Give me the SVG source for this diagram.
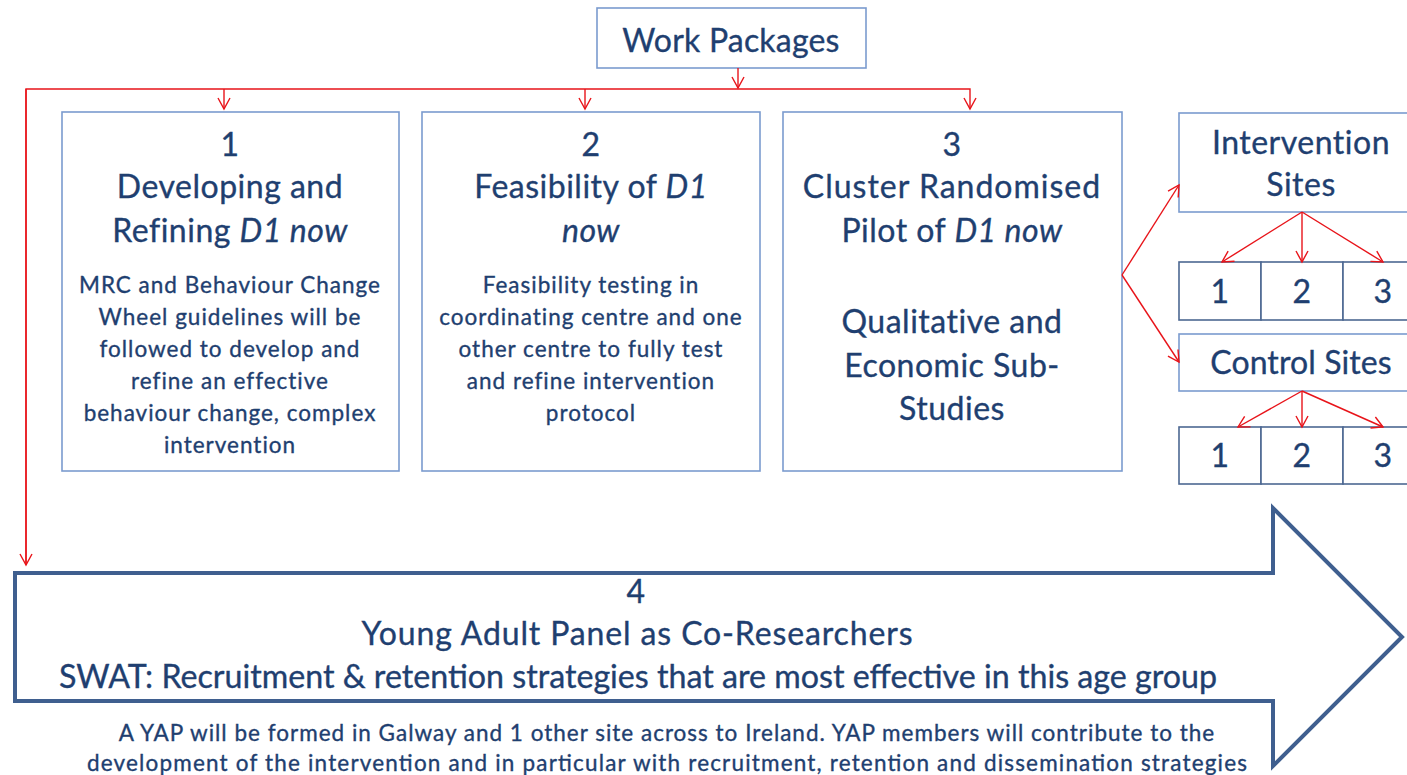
<svg xmlns="http://www.w3.org/2000/svg" width="1407" height="775" viewBox="0 0 1407 775">
<defs>
<style>
text{font-family:Lato,"Open Sans","Liberation Sans",sans-serif;fill:#1f3f70;stroke:#1f3f70;stroke-width:0.35;text-anchor:middle}
.big{font-size:32px;letter-spacing:0.5px}
.sm{font-size:22.5px;letter-spacing:1px}
.box{fill:#fff;stroke:#7b9bcf;stroke-width:1.6}
.cell{fill:#fff;stroke:#4d6892;stroke-width:1.6}
.red{fill:none;stroke:#e8141a;stroke-width:1.4}
</style>
<marker id="ah" viewBox="0 0 14 14" refX="12" refY="7" markerWidth="14" markerHeight="14" markerUnits="userSpaceOnUse" orient="auto">
<path d="M1,1 L12,7 L1,13" fill="none" stroke="#e8141a" stroke-width="1.4"/>
</marker>
</defs>
<rect width="1407" height="775" fill="#fff"/>

<g id="work-packages">
<rect class="box" x="597" y="8" width="269" height="60"/>
<text class="big" x="731" y="52" style="letter-spacing:0.2px">Work Packages</text>
</g>

<g id="wp1">
<rect class="box" x="62" y="112" width="337" height="359"/>
<text class="big" x="230" y="156">1</text>
<text class="big" x="230" y="198">Developing and</text>
<text class="big" x="230" y="242">Refining <tspan font-style="italic">D1 now</tspan></text>
<text class="sm" x="230" y="293">MRC and Behaviour Change</text>
<text class="sm" x="230" y="325">Wheel guidelines will be</text>
<text class="sm" x="230" y="357">followed to develop and</text>
<text class="sm" x="230" y="389">refine an effective</text>
<text class="sm" x="230" y="421">behaviour change, complex</text>
<text class="sm" x="230" y="453">intervention</text>
</g>

<g id="wp2">
<rect class="box" x="422" y="112" width="338" height="359"/>
<text class="big" x="591" y="156">2</text>
<text class="big" x="591" y="198">Feasibility of <tspan font-style="italic">D1</tspan></text>
<text class="big" x="591" y="242" font-style="italic">now</text>
<text class="sm" x="591" y="293">Feasibility testing in</text>
<text class="sm" x="591" y="325">coordinating centre and one</text>
<text class="sm" x="591" y="357">other centre to fully test</text>
<text class="sm" x="591" y="389">and refine intervention</text>
<text class="sm" x="591" y="421">protocol</text>
</g>

<g id="wp3">
<rect class="box" x="783" y="112" width="339" height="359"/>
<text class="big" x="952" y="156">3</text>
<text class="big" x="952" y="198" style="letter-spacing:1px">Cluster Randomised</text>
<text class="big" x="952" y="242">Pilot of <tspan font-style="italic">D1 now</tspan></text>
<text class="big" x="952" y="333">Qualitative and</text>
<text class="big" x="952" y="377">Economic Sub-</text>
<text class="big" x="952" y="420">Studies</text>
</g>

<g id="intervention-sites">
<rect class="box" x="1179" y="113" width="240" height="99"/>
<text class="big" x="1301" y="154">Intervention</text>
<text class="big" x="1301" y="196">Sites</text>
</g>
<g id="intervention-cells">
<rect class="cell" x="1179" y="262" width="82" height="58"/>
<rect class="cell" x="1261" y="262" width="82" height="58"/>
<rect class="cell" x="1343" y="262" width="82" height="58"/>
<text class="big" x="1220" y="303">1</text>
<text class="big" x="1302" y="303">2</text>
<text class="big" x="1383" y="303">3</text>
</g>

<g id="control-sites">
<rect class="box" x="1179" y="334" width="240" height="57"/>
<text class="big" x="1301" y="374" style="letter-spacing:0.1px">Control Sites</text>
</g>
<g id="control-cells">
<rect class="cell" x="1179" y="427" width="82" height="57"/>
<rect class="cell" x="1261" y="427" width="82" height="57"/>
<rect class="cell" x="1343" y="427" width="82" height="57"/>
<text class="big" x="1220" y="467">1</text>
<text class="big" x="1302" y="467">2</text>
<text class="big" x="1383" y="467">3</text>
</g>

<g id="wp4">
<path d="M15,573 L1273,573 L1273,508 L1402,637 L1273,766 L1273,701 L15,701 Z" fill="#fff" stroke="#3f5f8f" stroke-width="4" stroke-linejoin="miter"/>
<text class="big" x="636" y="603">4</text>
<text class="big" x="637" y="645" textLength="551" lengthAdjust="spacing" style="letter-spacing:0">Young Adult Panel as Co-Researchers</text>
<text class="big" x="638" y="688" textLength="1158" lengthAdjust="spacingAndGlyphs" style="letter-spacing:0">SWAT: Recruitment &amp; retention strategies that are most effective in this age group</text>
</g>

<g id="wp4-note">
<text class="sm" x="667" y="741">A YAP will be formed in Galway and 1 other site across to Ireland. YAP members will contribute to the</text>
<text class="sm" x="667" y="771" textLength="1160" lengthAdjust="spacing" style="letter-spacing:0">development of the intervention and in particular with recruitment, retention and dissemination strategies</text>
</g>

<g id="connectors">
<path class="red" d="M738,68 L738,88" marker-end="url(#ah)"/>
<path class="red" d="M26,565 L26,89 L970,89 L970,109" marker-end="url(#ah)"/>
<path class="red" d="M26,89 L26,565" marker-end="url(#ah)"/>
<path class="red" d="M224,89 L224,109" marker-end="url(#ah)"/>
<path class="red" d="M585,89 L585,109" marker-end="url(#ah)"/>
<path class="red" d="M1122,275 L1179,185" marker-end="url(#ah)"/>
<path class="red" d="M1122,275 L1179,362" marker-end="url(#ah)"/>
<path class="red" d="M1302,212 L1222,262" marker-end="url(#ah)"/>
<path class="red" d="M1302,212 L1302,262" marker-end="url(#ah)"/>
<path class="red" d="M1302,212 L1383,262" marker-end="url(#ah)"/>
<path class="red" d="M1302,391 L1238,427" marker-end="url(#ah)"/>
<path class="red" d="M1302,391 L1302,427" marker-end="url(#ah)"/>
<path class="red" d="M1302,391 L1383,427" marker-end="url(#ah)"/>
</g>
</svg>
